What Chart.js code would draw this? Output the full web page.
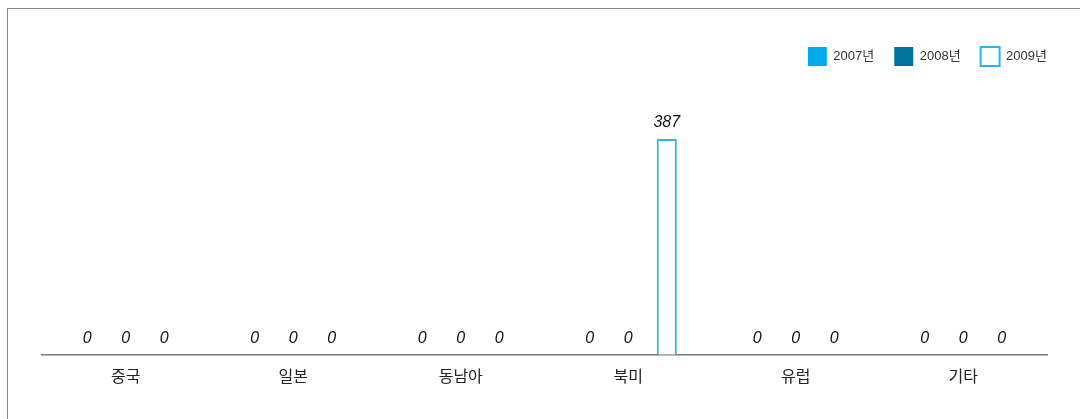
<!DOCTYPE html>
<html>
<head>
<meta charset="utf-8">
<script src="https://cdn.jsdelivr.net/npm/chart.js@4.4.1/dist/chart.umd.min.js"></script>
<style>
  html, body { margin:0; padding:0; background:#fff; }
  #wrap { position:relative; width:1080px; height:419px; overflow:hidden; }
  #frame { position:absolute; left:7px; top:8px; width:1200px; height:500px; border:1px solid #8c8c8c; box-sizing:border-box; }
  canvas { position:absolute; left:0; top:0; }
</style>
</head>
<body>
<div id="wrap">
  <div id="frame"></div>
  <canvas id="c" width="1080" height="419"></canvas>
</div>
<script>
// chart values
const regions = ["중국", "일본", "동남아", "북미", "유럽", "기타"];
const years = ["2007년", "2008년", "2009년"];
const v2007 = [0, 0, 0, 0, 0, 0];
const v2008 = [0, 0, 0, 0, 0, 0];
const v2009 = [0, 0, 0, 387, 0, 0];

const LABEL_FONT = "'Liberation Sans Narrow', 'Liberation Sans', 'Noto Sans CJK KR', sans-serif";

// value labels drawn above each bar
const valueLabels = {
  id: "valueLabels",
  afterDatasetsDraw(chart) {
    const ctx = chart.ctx;
    ctx.save();
    ctx.font = "italic 16px 'Liberation Sans', 'Noto Sans', sans-serif";
    ctx.fillStyle = "#111";
    ctx.textAlign = "center";
    ctx.textBaseline = "alphabetic";
    chart.data.datasets.forEach((ds, i) => {
      chart.getDatasetMeta(i).data.forEach((bar, j) => {
        ctx.fillText(String(ds.data[j]), bar.x, bar.y - 12);
      });
    });
    ctx.restore();
  }
};

new Chart(document.getElementById("c"), {
  type: "bar",
  data: {
    labels: regions,
    datasets: [
      { label: years[0], data: v2007, backgroundColor: "#00a9e9", borderWidth: 0 },
      { label: years[1], data: v2008, backgroundColor: "#00729e", borderWidth: 0 },
      { label: years[2], data: v2009, backgroundColor: "#ffffff", borderColor: "#29b4ea", borderWidth: 2 }
    ]
  },
  options: {
    responsive: false,
    animation: false,
    devicePixelRatio: 1,
    layout: { padding: { left: 42, right: 13, top: 27, bottom: 29 } },
    datasets: { bar: { categoryPercentage: 0.69, barPercentage: 0.52 } },
    plugins: {
      tooltip: { enabled: false },
      legend: {
        position: "top",
        align: "end",
        labels: {
          boxWidth: 19,
          boxHeight: 19,
          padding: 20,
          color: "#333",
          font: { family: LABEL_FONT, size: 13 }
        }
      }
    },
    scales: {
      x: {
        grid: { display: false },
        border: { display: true, color: "#777", width: 1.5 },
        ticks: { color: "#222", padding: 4, font: { family: "'Noto Sans CJK KR', sans-serif", size: 16 } }
      },
      y: {
        display: false,
        min: 0,
        max: 500
      },
      // empty spacer on the right so the plot ends where the legend does
      spacer: {
        position: "right",
        grid: { display: false },
        border: { display: false },
        ticks: { display: false },
        afterFit(s) { s.width = 20; }
      }
    }
  },
  plugins: [valueLabels]
});
</script>
</body>
</html>
